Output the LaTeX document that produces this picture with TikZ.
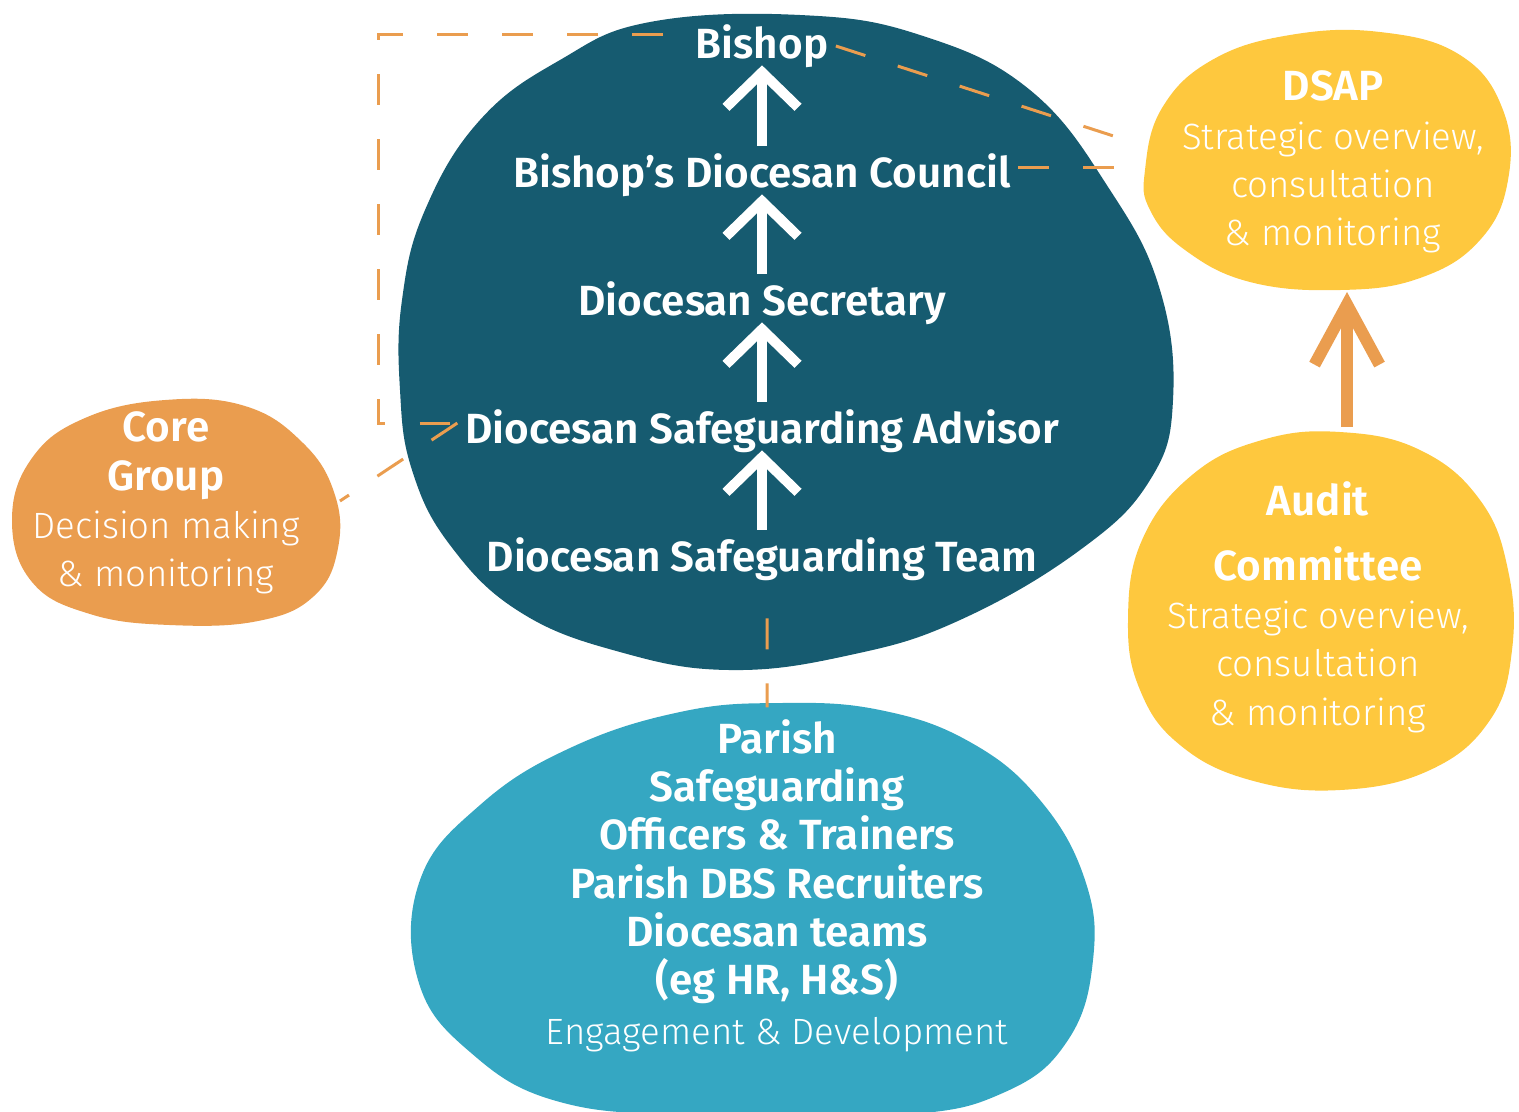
\documentclass[tikz,border=0pt]{standalone}
\usepackage{fontspec}
\setmainfont{Fira Sans}[BoldFont={Fira Sans SemiBold}]
\newfontfamily\lightfont{Fira Sans Light}
\newcommand\lite[1]{{\lightfont\fontsize{10.4}{13.7}\selectfont #1}}
\usetikzlibrary{positioning, calc, arrows.meta}

\definecolor{deepteal}{RGB}{22,91,112}
\definecolor{skyteal}{RGB}{53,167,194}
\definecolor{linkorange}{RGB}{234,157,79}
\definecolor{sunyellow}{RGB}{254,200,62}

\begin{document}
\begin{tikzpicture}[x=0.01cm, y=-0.01cm,
        title/.style={text=white, font=\bfseries\fontsize{12}{13.7}\selectfont, inner sep=2pt},
        blurb/.style={text=white, align=center, font=\fontsize{12}{13.7}\selectfont},
        link/.style={draw=linkorange, line width=0.85pt, dash pattern=on 8.8pt off 9.7pt},
        up/.style={draw=white, line width=2.85pt, shorten >=-0.1cm, -{Straight Barb[length=0.35cm, width=0.72cm]}},
        bigup/.style={draw=linkorange, line width=3.4pt, -{Straight Barb[length=0.6cm, width=0.65cm]}}]
                \useasboundingbox (0,0) rectangle (1519,1111);

                % blobs
                \fill[deepteal] plot[smooth cycle, tension=0.7] coordinates {(650,22) (800,15) (920,35) (1030,90) (1110,190) (1160,290) (1173,400) (1150,480) (1080,550) (960,620) (850,655) (730,670) (620,652) (520,612) (450,545) (412,470) (400,390) (402,300) (425,210) (480,120) (560,60)};
                \fill[skyteal] plot[smooth cycle, tension=0.7] coordinates {(420,880) (480,805) (570,748) (680,712) (780,703) (880,710) (970,742) (1040,800) (1085,880) (1093,960) (1068,1040) (1005,1092) (900,1115) (700,1115) (560,1102) (470,1052) (418,980)};
                \fill[linkorange] plot[smooth cycle, tension=0.7] coordinates {(12,520) (32,458) (85,418) (165,400) (245,406) (302,442) (334,492) (338,548) (314,596) (258,621) (170,625) (90,614) (32,582)};
                \fill[sunyellow] plot[smooth cycle, tension=0.7] coordinates {(1145,170) (1162,108) (1212,60) (1290,35) (1380,32) (1460,55) (1503,110) (1508,180) (1480,240) (1420,278) (1340,290) (1250,282) (1185,250) (1150,210)};
                \fill[sunyellow] plot[smooth cycle, tension=0.7] coordinates {(1128,620) (1142,540) (1192,475) (1262,440) (1340,432) (1420,450) (1480,500) (1508,570) (1512,650) (1490,720) (1430,770) (1340,790) (1250,780) (1180,745) (1140,690)};

                % chain of roles
                \foreach \name/\y/\txt in {bishop/46/Bishop, council/175/Bishop’s Diocesan Council, secretary/303/Diocesan Secretary, advisor/431/Diocesan Safeguarding Advisor, team/559/Diocesan Safeguarding Team} {
                        \node[title] (\name) at (762,\y) {\txt};
                }
                \foreach \a/\b in {council/bishop, secretary/council, advisor/secretary, team/advisor} {
                        \draw[up] (\a.north) -- (\a.north |- \b.south);
                }

                % side groups
                \node[blurb] (core) at (166,503) {\textbf{Core}\\\textbf{Group}\\\lite{Decision making}\\\lite{\& monitoring}};
                \node[blurb] (dsap) at (1333,162) {\textbf{DSAP}\\\lite{Strategic overview,}\\\lite{consultation}\\\lite{\& monitoring}};
                \node[blurb] (audit) at (1318,607) {\textbf{Audit}\\[4.8pt]\textbf{Committee}\\\lite{Strategic overview,}\\\lite{consultation}\\\lite{\& monitoring}};
                \node[blurb] (parish) at (777,886) {\textbf{Parish}\\\textbf{Safeguarding}\\\textbf{Officers \& Trainers}\\\textbf{Parish DBS Recruiters}\\\textbf{Diocesan teams}\\\textbf{(eg HR, H\&S)}\\[0.6pt]\lite{Engagement \& Development}};

                % edges of the blobs
                \coordinate (dsapTip) at (1132,142);
                \coordinate (dsapSide) at (1132,167);
                \coordinate (corner) at (378,34);
                \coordinate (coreSide) at (340,501);
                \coordinate (auditTop) at (1347,427);
                \coordinate (dsapFoot) at (1347,292);

                % dashed links
                \draw[link] (bishop.east) -- (dsapTip);
                \draw[link] (council.east |- dsapSide) -- (dsapSide);
                \draw[link, shorten <=0.25cm] (bishop.west |- corner) -- (corner) |- ([yshift=0.08cm]advisor.west);
                \draw[link] ([yshift=0.08cm]advisor.west) -- (coreSide);
                \draw[link, shorten <=0.3cm] ([xshift=0.05cm]team.south) -- ([xshift=-0.1cm]parish.north);

                \draw[bigup] (auditTop) -- (dsapFoot);
        \end{tikzpicture}
\end{document}
